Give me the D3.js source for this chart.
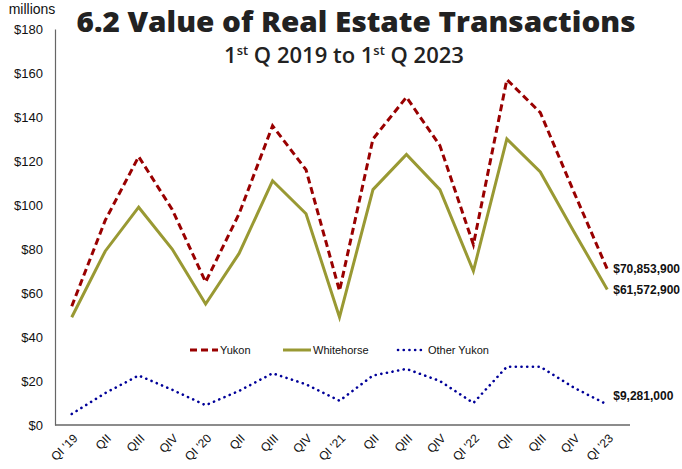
<!DOCTYPE html>
<html>
<head>
<meta charset="utf-8">
<script src="https://cdn.jsdelivr.net/npm/d3@7"></script>
<style>
  body { margin: 0; background: #fff; }
  svg { display: block; }
</style>
</head>
<body>
<svg id="chart"></svg>
<script>
// quarters along the x axis
const quarters = ["QI '19", "QII", "QIII", "QIV", "QI '20", "QII", "QIII", "QIV",
  "QI '21", "QII", "QIII", "QIV", "QI '22", "QII", "QIII", "QIV", "QI '23"];

// values in millions of dollars
const yukon = [54, 93, 122, 98, 65, 96, 136, 116, 61, 130, 149, 127, 82, 157, 142, 106, 70.85];
const whitehorse = [49, 79, 99, 80, 55, 78, 111, 96, 49, 107, 123, 107, 70, 130, 115, 88, 61.57];
const otherYukon = [5, 14.5, 22.5, 16, 9, 15.5, 23.5, 18.5, 11, 22.5, 25.5, 20, 10, 26.5, 26.5, 17, 9.28];

const yTicks = [0, 20, 40, 60, 80, 100, 120, 140, 160, 180];
const endLabels = ["$70,853,900", "$61,572,900", "$9,281,000"];

const width = 682, height = 469;

const svg = d3.select("#chart")
  .attr("width", width)
  .attr("height", height);

const x = d3.scalePoint()
  .domain(d3.range(quarters.length))
  .range([55, 624])
  .padding(0.5);

const y = d3.scaleLinear()
  .domain([0, 180])
  .range([425, 29]);

// y axis, labels only + the vertical line
svg.append("g")
  .attr("transform", "translate(55,0)")
  .call(d3.axisLeft(y).tickValues(yTicks).tickSize(0).tickPadding(12).tickFormat(d => "$" + d))
  .call(g => g.select(".domain").attr("stroke", "#666").attr("stroke-width", 1.2))
  .call(g => g.selectAll("text")
    .attr("font-family", "Liberation Sans, Arial, sans-serif")
    .attr("font-size", "13px")
    .attr("fill", "#111"));

svg.append("text")
  .attr("x", 32)
  .attr("y", 14)
  .attr("text-anchor", "middle")
  .attr("font-family", "Liberation Sans, Arial, sans-serif")
  .attr("font-size", "14px")
  .attr("fill", "#111")
  .text("millions");

// x axis
const xAxis = svg.append("g")
  .attr("transform", "translate(0,425)")
  .call(d3.axisBottom(x).tickSize(0).tickFormat(i => quarters[i]));

xAxis.select(".domain")
  .attr("stroke", "#666")
  .attr("stroke-width", 1.6)
  .attr("d", "M55,0H630");

xAxis.selectAll("text")
  .attr("font-family", "Liberation Sans, Arial, sans-serif")
  .attr("font-size", "12px")
  .attr("fill", "#111")
  .attr("text-anchor", "end")
  .attr("dy", 0)
  .attr("transform", "translate(4,12) rotate(-45)");

// lines
const line = d3.line()
  .x((d, i) => x(i))
  .y(d => y(d));

const series = [
  { name: "Yukon", values: yukon, color: "#990000", width: 3, dash: "7,4", cap: "butt" },
  { name: "Whitehorse", values: whitehorse, color: "#999933", width: 3, dash: null, cap: "butt" },
  { name: "Other Yukon", values: otherYukon, color: "#000099", width: 2.6, dash: "0.1,5.6", cap: "round" }
];

series.forEach(s => {
  svg.append("path")
    .datum(s.values)
    .attr("fill", "none")
    .attr("stroke", s.color)
    .attr("stroke-width", s.width)
    .attr("stroke-dasharray", s.dash)
    .attr("stroke-linecap", s.cap)
    .attr("stroke-linejoin", "miter")
    .attr("d", line);
});

// end labels
const last = quarters.length - 1;
const labelOffsets = [4, 4, -5];
series.forEach((s, k) => {
  svg.append("text")
    .attr("x", x(last) + 6)
    .attr("y", y(s.values[last]) + labelOffsets[k])
    .attr("font-family", "Liberation Sans, Arial, sans-serif")
    .attr("font-size", "12px")
    .attr("font-weight", "bold")
    .attr("fill", "#111")
    .text(endLabels[k]);
});

// legend
const legendX = [190, 283, 398];
const legend = svg.append("g").attr("transform", "translate(0,350)");
series.forEach((s, k) => {
  legend.append("line")
    .attr("x1", legendX[k])
    .attr("x2", legendX[k] + 28)
    .attr("y1", 0)
    .attr("y2", 0)
    .attr("stroke", s.color)
    .attr("stroke-width", s.width)
    .attr("stroke-dasharray", s.dash)
    .attr("stroke-linecap", s.cap);
  legend.append("text")
    .attr("x", legendX[k] + 30)
    .attr("y", 4)
    .attr("font-family", "Liberation Sans, Arial, sans-serif")
    .attr("font-size", "11px")
    .attr("fill", "#111")
    .text(s.name);
});

// titles
svg.append("text")
  .attr("x", 356)
  .attr("y", 32)
  .attr("text-anchor", "middle")
  .attr("font-family", "'Open Sans', Lato, sans-serif")
  .attr("font-size", "28px")
  .attr("font-weight", "800")
  .attr("fill", "#222")
  .attr("textLength", 559)
  .attr("lengthAdjust", "spacingAndGlyphs")
  .text("6.2 Value of Real Estate Transactions");

const sub = svg.append("text")
  .attr("x", 344)
  .attr("y", 63)
  .attr("text-anchor", "middle")
  .attr("font-family", "'Open Sans', Lato, sans-serif")
  .attr("font-size", "22px")
  .attr("font-weight", "600")
  .attr("fill", "#222");
sub.append("tspan").text("1");
sub.append("tspan").attr("font-size", "13px").attr("dy", -8).text("st");
sub.append("tspan").attr("dy", 8).text(" Q 2019 to 1");
sub.append("tspan").attr("font-size", "13px").attr("dy", -8).text("st");
sub.append("tspan").attr("dy", 8).text(" Q 2023");
</script>
</body>
</html>
